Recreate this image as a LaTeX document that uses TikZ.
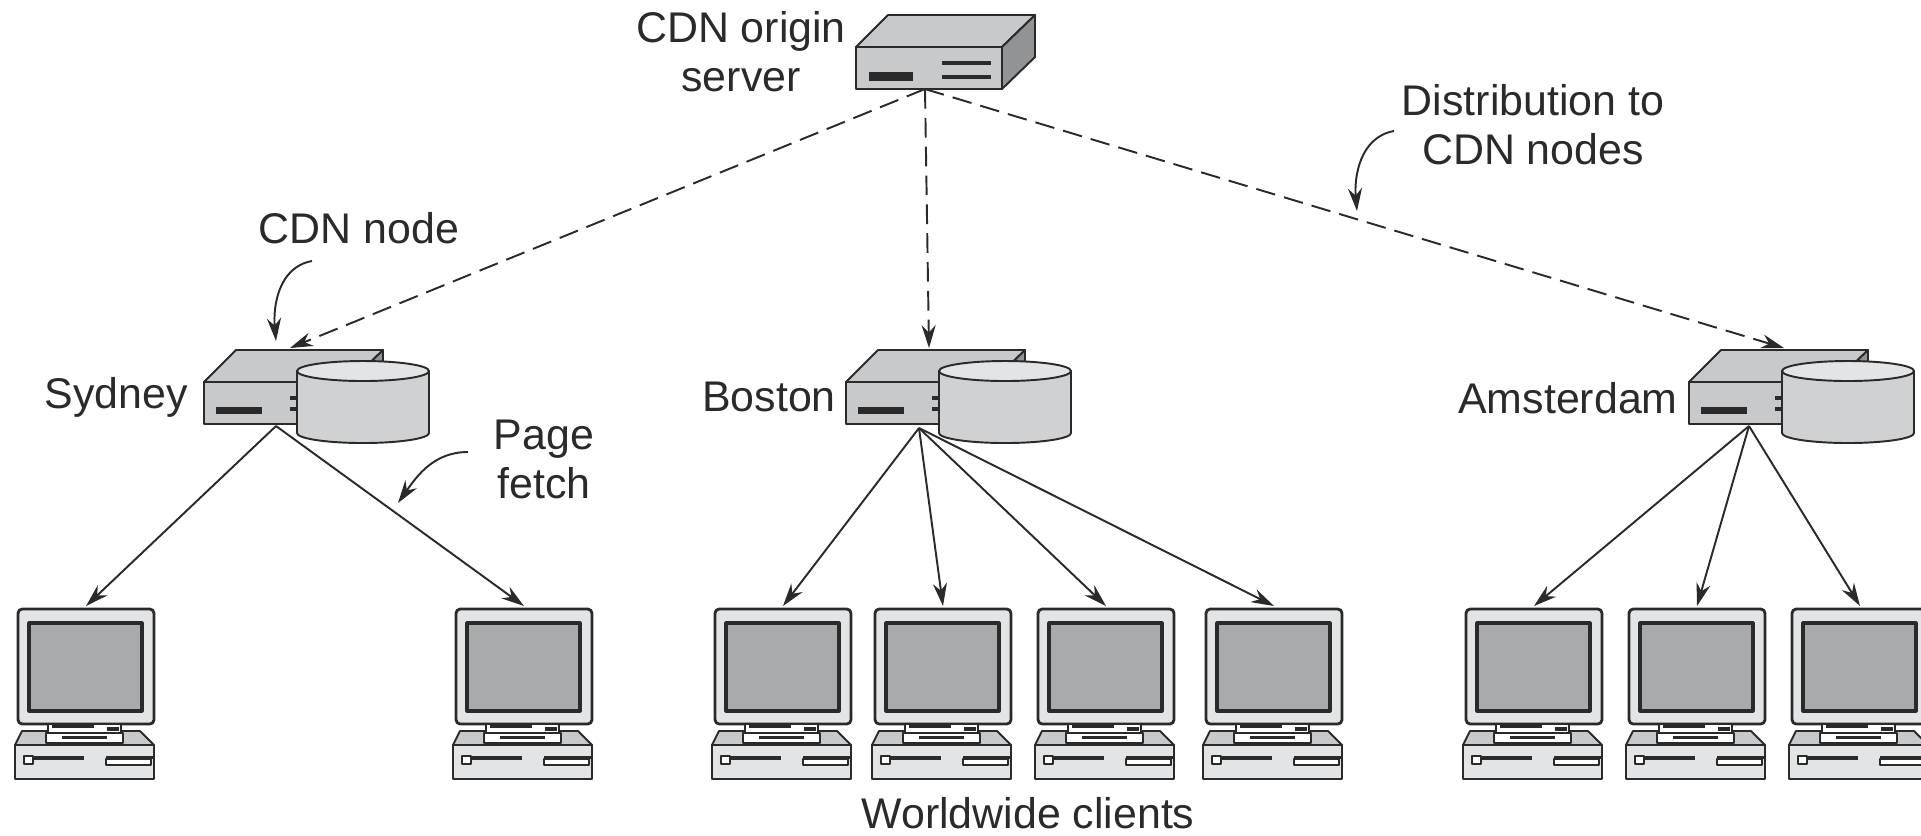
\documentclass[tikz,border=0pt]{standalone}
\usepackage{fontspec}
\setmainfont{Liberation Sans}
\usetikzlibrary{arrows.meta}
\definecolor{ink}{HTML}{2A2A2A}
\definecolor{boxgray}{HTML}{C8C9CB}
\definecolor{sidegray}{HTML}{929395}
\definecolor{screengray}{HTML}{A9AAAC}
\definecolor{palegray}{HTML}{E3E4E5}
\begin{document}
\begin{tikzpicture}[
    x=0.01cm, y=-0.01cm,
    line width=0.55pt, draw=ink, line join=round,
    label/.style={text=ink, align=center, inner sep=0pt, font=\fontsize{12.2}{13.9}\selectfont},
    dist/.style={-{Stealth[length=6.5pt,width=4pt]}, dash pattern=on 5.6pt off 2.6pt},
    fetch/.style={-{Stealth[length=6.5pt,width=4pt]}},
    callout/.style={-{Stealth[length=6.5pt,width=4pt]}},
    bar/.style={fill=ink, draw=none},
    box/.pic={
        \draw[fill=boxgray] (0,0) -- (32,-32) -- (179,-32) -- (146,0) -- cycle;
        \draw[fill=sidegray] (146,0) -- (179,-32) -- (179,10) -- (146,42) -- cycle;
        \draw[fill=boxgray] (0,0) rectangle (146,42);
    },
    cdnbox/.pic={
        \pic {box};
        \fill[bar] (12,25) rectangle (58,32);
        \fill[bar] (86,14) rectangle (93,18);
        \fill[bar] (86,25) rectangle (93,29);
    },
    disk/.pic={
        \draw[fill=boxgray!85!white] (0,0) -- (0,62) arc[start angle=180, end angle=360, x radius=66, y radius=-10]
            -- (132,0) -- cycle;
        \draw[fill=palegray] (66,0) ellipse[x radius=66, y radius=10];
    },
    client/.pic={
        \coordinate (-top) at (0,-3);
        \draw[fill=palegray, line width=0.8pt, rounded corners=1.2pt] (-68,0) rectangle (68,115);
        \draw[fill=screengray, line width=0.9pt] (-57,14) rectangle (56,102);
        \draw[fill=boxgray] (-71,136) -- (-64,122) -- (54,122) -- (68,136) -- cycle;
        \draw[fill=palegray] (-71,136) rectangle (68,170);
        \draw[fill=white] (-38,115) rectangle (35,124);
        \draw[fill=white] (-40,124) rectangle (37,134);
        \fill[bar] (-24,127) rectangle (21,130);
        \fill[bar] (-34,116) rectangle (8,118.5);
        \fill[bar] (21,118) rectangle (33,122);
        \draw[fill=white] (-62,147) rectangle (-53,155);
        \fill[bar] (-53,147) rectangle (-2,151);
        \draw[fill=white] (20,150) rectangle (65,156);
        \fill[bar] (20,147) rectangle (68,150);
    },
]
\clip (0,0) rectangle (1921,835);

\foreach \name/\xpos in {a/86, b/524, c/783, d/943, e/1106, f/1274, g/1534, h/1697, i/1860}
    \pic (\name) at (\xpos,609) {client};

\pic (origin) at (856,47) {box};
\fill[bar] (869,72) rectangle (913,81);
\fill[bar] (942,60.5) rectangle (991,64.5);
\fill[bar] (942,75) rectangle (991,79);

\pic (sydney) at (204,382) {cdnbox};
\pic (boston) at (846,382) {cdnbox};
\pic (amsterdam) at (1689,382) {cdnbox};

\coordinate (originout) at (925,89);
\coordinate (sydneyin) at (290,348);
\coordinate (bostonin) at (929,348);
\coordinate (amsterdamin) at (1784,348);
\coordinate (sydneyout) at (276,426);
\coordinate (bostonout) at (919,428);
\coordinate (amsterdamout) at (1749,426);

\foreach \dest in {sydneyin, bostonin, amsterdamin}
    \draw[dist] (originout) -- (\dest);
\foreach \dest in {a, b}
    \draw[fetch] (sydneyout) -- (\dest-top);
\foreach \dest in {c, d, e, f}
    \draw[fetch] (bostonout) -- (\dest-top);
\foreach \dest in {g, h, i}
    \draw[fetch] (amsterdamout) -- (\dest-top);

\pic (sydneydisk) at (297,371) {disk};
\pic (bostondisk) at (939,371) {disk};
\pic (amsterdamdisk) at (1782,371) {disk};

\node[label] (originlabel) at (741,52) {CDN origin\\server};
\node[label] (distlabel) at (1533,125) {Distribution to\\CDN nodes};
\node[label] (nodelabel) at (359,228) {CDN node};
\node[label] (sydneylabel) at (116,397) {Sydney};
\node[label] (bostonlabel) at (769,397) {Boston};
\node[label] (amsterdamlabel) at (1568,398) {Amsterdam};
\node[label] (fetchlabel) at (544,459) {Page\\fetch};
\node[label] (clientslabel) at (1028,813) {Worldwide clients};

\coordinate (distfrom) at (1394,131);
\coordinate (distto) at (1357,211);
\coordinate (nodefrom) at (312,261);
\coordinate (nodeto) at (276,341);
\coordinate (fetchfrom) at (468,452);
\coordinate (fetchto) at (398,503);
\draw[callout] (distfrom) to[out=190, in=95] (distto);
\draw[callout] (nodefrom) to[out=190, in=95] (nodeto);
\draw[callout] (fetchfrom) to[out=180, in=55] (fetchto);
\end{tikzpicture}
\end{document}
